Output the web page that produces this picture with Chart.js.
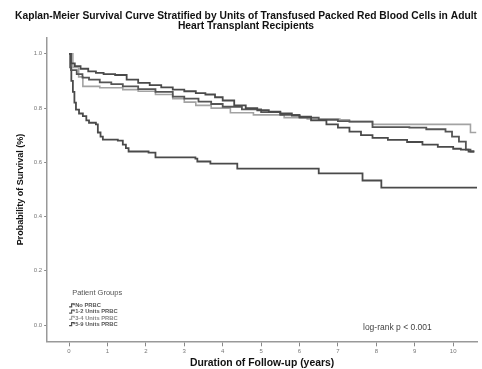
<!DOCTYPE html>
<html>
<head>
<meta charset="utf-8">
<script src="https://cdn.jsdelivr.net/npm/chart.js@4.4.1/dist/chart.umd.min.js"></script>
<style>
  html, body { margin: 0; padding: 0; background: #fff; }
  #wrap { width: 482px; height: 369px; }
</style>
</head>
<body>
<div id="wrap"><canvas id="km"></canvas></div>
<script>
// Kaplan-Meier curves: years / survival probability
const groupNames = ["No PRBC", "1-2 Units PRBC", "3-4 Units PRBC", "5-9 Units PRBC"];

const noPrbcYears = [0, 0.05, 0.15, 0.3, 0.5, 0.7, 0.9, 1.2, 1.5, 1.8, 2.1, 2.4, 2.7, 3.0, 3.3, 3.55, 3.8, 4.0, 4.3, 4.6, 4.9, 5.2, 5.5, 5.8, 6.0, 6.3, 6.7, 7.0, 7.3, 7.6, 7.9, 8.3, 8.8, 9.2, 9.6, 10.0, 10.2, 10.4, 10.55];
const noPrbcSurv  = [1.0, 0.965, 0.955, 0.945, 0.935, 0.93, 0.925, 0.922, 0.905, 0.893, 0.885, 0.876, 0.868, 0.862, 0.855, 0.85, 0.84, 0.828, 0.81, 0.80, 0.792, 0.787, 0.78, 0.772, 0.768, 0.755, 0.74, 0.728, 0.713, 0.70, 0.69, 0.683, 0.675, 0.665, 0.657, 0.65, 0.647, 0.64, 0.64];

const units12Years = [0, 0.05, 0.2, 0.35, 0.52, 0.8, 1.1, 1.4, 1.8, 2.25, 2.7, 3.0, 3.37, 3.7, 4.0, 4.5, 5.0, 5.5, 6.0, 6.5, 7.0, 7.3, 7.9, 8.86, 9.3, 9.8, 9.97, 10.15, 10.33, 10.45, 10.55];
const units12Surv  = [1.0, 0.94, 0.925, 0.912, 0.905, 0.895, 0.888, 0.88, 0.87, 0.86, 0.842, 0.835, 0.824, 0.815, 0.805, 0.795, 0.785, 0.775, 0.765, 0.757, 0.752, 0.75, 0.73, 0.728, 0.722, 0.713, 0.695, 0.676, 0.647, 0.64, 0.64];

const units34Years = [0, 0.1, 0.25, 0.36, 0.8, 1.4, 1.8, 2.25, 2.7, 3.0, 3.3, 3.7, 4.2, 4.8, 5.6, 6.2, 7.05, 7.3, 7.9, 10.45, 10.6];
const units34Surv  = [1.0, 0.95, 0.915, 0.88, 0.875, 0.868, 0.862, 0.85, 0.835, 0.822, 0.81, 0.80, 0.783, 0.775, 0.765, 0.76, 0.757, 0.75, 0.74, 0.71, 0.71];

const units59Years = [0, 0.03, 0.06, 0.1, 0.14, 0.18, 0.26, 0.36, 0.45, 0.52, 0.7, 0.75, 0.82, 0.88, 1.27, 1.4, 1.48, 1.55, 2.07, 2.25, 3.29, 3.34, 3.68, 4.38, 6.5, 7.64, 8.13, 10.62];
const units59Surv  = [1.0, 0.95, 0.9, 0.86, 0.82, 0.794, 0.78, 0.77, 0.755, 0.746, 0.74, 0.71, 0.695, 0.684, 0.68, 0.665, 0.652, 0.64, 0.636, 0.618, 0.614, 0.603, 0.595, 0.577, 0.559, 0.533, 0.507, 0.507];

const xTicks = [0, 1, 2, 3, 4, 5, 6, 7, 8, 9, 10];
const yTicks = [0.0, 0.2, 0.4, 0.6, 0.8, 1.0];
const pValueText = "log-rank p < 0.001";

const darkLine = "#4a4a4a";
const lightLine = "#a3a3a3";
const lineColors = [darkLine, "#555555", lightLine, darkLine];

function toPoints(xs, ys) {
    return xs.map((x, i) => ({ x: x, y: ys[i] }));
}

const curves = [
    toPoints(noPrbcYears, noPrbcSurv),
    toPoints(units12Years, units12Surv),
    toPoints(units34Years, units34Surv),
    toPoints(units59Years, units59Surv)
];

// legend block and log-rank note drawn inside the plot, like the original
const groupLegend = {
    id: "groupLegend",
    afterDraw(chart) {
        const ctx = chart.ctx;
        const area = chart.chartArea;
        ctx.save();
        ctx.fillStyle = "#555";
        ctx.textBaseline = "middle";
        ctx.font = "7.5px 'Liberation Sans'";
        ctx.fillText("Patient Groups", area.left + 25, area.bottom - 48);
        ctx.font = "bold 5.8px 'Liberation Sans'";
        groupNames.forEach((name, i) => {
            const y = area.bottom - 36 + i * 6.3;
            const x = area.left + 22;
            ctx.strokeStyle = lineColors[i];
            ctx.lineWidth = 1.2;
            ctx.beginPath();
            ctx.moveTo(x, y + 1.5);
            ctx.lineTo(x + 2.5, y + 1.5);
            ctx.lineTo(x + 2.5, y - 1.5);
            ctx.lineTo(x + 5, y - 1.5);
            ctx.lineTo(x + 5, y);
            ctx.stroke();
            ctx.fillStyle = i === 2 ? "#888" : "#555";
            ctx.fillText(name, x + 6, y);
        });
        ctx.fillStyle = "#444";
        ctx.font = "8.5px 'Liberation Sans'";
        ctx.fillText(pValueText, area.right - 114, area.bottom - 14);
        ctx.restore();
    }
};

const ctx = document.getElementById("km").getContext("2d");
let chart = new Chart(ctx, {
    type: "line",
    data: {
        datasets: curves.map((pts, i) => ({
            label: groupNames[i],
            data: pts,
            borderColor: lineColors[i],
            borderWidth: i === 2 ? 1.6 : 1.8,
            stepped: true,
            pointRadius: 0,
            fill: false
        }))
    },
    options: {
        responsive: true,
        maintainAspectRatio: false,
        animation: false,
        layout: {
            padding: { top: 3, right: 5, bottom: 0, left: 15 }
        },
        scales: {
            x: {
                type: "linear",
                min: -0.57,
                max: 10.62,
                afterBuildTicks: (axis) => { axis.ticks = xTicks.map(v => ({ value: v })); },
                grid: { display: true, drawOnChartArea: false, tickLength: 5, color: "#888", tickWidth: 1 },
                border: { display: true, color: "#999", width: 1.5 },
                ticks: {
                    color: "#777",
                    font: { size: 6, family: "'Liberation Sans'" },
                    padding: 1,
                    maxRotation: 0,
                    callback: (v) => v.toString()
                },
                title: {
                    display: true,
                    text: "Duration of Follow-up (years)",
                    color: "#111",
                    font: { size: 10.4, weight: "bold", family: "'Liberation Sans'" },
                    padding: { top: 1, bottom: 0 }
                }
            },
            y: {
                min: -0.06,
                max: 1.06,
                afterBuildTicks: (axis) => { axis.ticks = yTicks.map(v => ({ value: v })); },
                grid: { display: true, drawOnChartArea: false, tickLength: 3, color: "#888", tickWidth: 1 },
                border: { display: true, color: "#999", width: 1.5 },
                ticks: {
                    color: "#777",
                    font: { size: 6, family: "'Liberation Sans'" },
                    padding: 2,
                    callback: (v) => v.toFixed(1)
                },
                title: {
                    display: true,
                    text: "Probability of Survival (%)",
                    color: "#111",
                    font: { size: 9, weight: "bold", family: "'Liberation Sans'" },
                    padding: { top: 0, bottom: 6 }
                }
            }
        },
        plugins: {
            legend: { display: false },
            tooltip: { enabled: false },
            title: {
                display: true,
                text: ["Kaplan-Meier Survival Curve Stratified by Units of Transfused Packed Red Blood Cells in Adult", "Heart Transplant Recipients"],
                color: "#111",
                font: { size: 10.3, weight: "bold", family: "'Liberation Sans'", lineHeight: 0.95 },
                padding: { top: 8, bottom: 7 }
            }
        }
    },
    plugins: [groupLegend]
});
</script>
</body>
</html>
